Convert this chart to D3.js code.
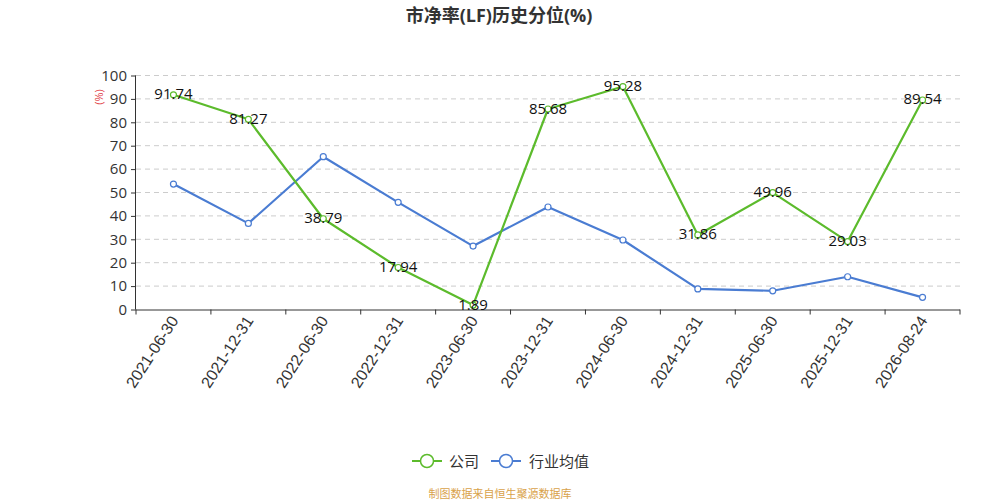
<!DOCTYPE html>
<html><head><meta charset="utf-8">
<script src="https://cdn.jsdelivr.net/npm/d3@7"></script>
<style>
body{margin:0;background:#fff;}
svg{display:block;font-family:"Open Sans","Noto Sans CJK SC",sans-serif;}
</style></head>
<body><svg id="c" width="1000" height="500"></svg>
<script>
const categories = ["2021-06-30","2021-12-31","2022-06-30","2022-12-31","2023-06-30","2023-12-31","2024-06-30","2024-12-31","2025-06-30","2025-12-31","2026-08-24"];
const companyValues = [91.74,81.27,38.79,17.94,1.89,85.68,95.28,31.86,49.96,29.03,89.54];
const industryValues = [53.6,36.8,65.3,45.8,27.1,43.8,29.7,8.8,8.0,14.0,5.2];
const yTicks = [0,10,20,30,40,50,60,70,80,90,100];
const seriesNames = ["公司","行业均值"];
const title = "市净率(LF)历史分位(%)";
const unitLabel = "(%)";
const footer = "制图数据来自恒生聚源数据库";

const green = "#5cbb2c", blue = "#4a7cd2";
const svg = d3.select("#c");
const L = 136, R = 960, T = 75.5, B = 309.5;
const x = d3.scaleBand().domain(categories).range([L, R]);
const y = d3.scaleLinear().domain([0, 100]).range([B, T]);
const cx = d => x(d) + x.bandwidth() / 2;

svg.append("text").attr("x", 499).attr("y", 15).attr("text-anchor", "middle")
  .attr("dominant-baseline", "central").attr("font-size", 18).attr("font-weight", "bold")
  .attr("fill", "#333").text(title);

// grid
svg.append("g").selectAll("line").data(yTicks.filter(t => t > 0)).join("line")
  .attr("x1", L).attr("x2", R).attr("y1", d => y(d)).attr("y2", d => y(d))
  .attr("stroke", "#ccc").attr("stroke-dasharray", "5,4").attr("stroke-width", 1);

// y axis
const ya = svg.append("g").attr("transform", `translate(${L},0)`)
  .call(d3.axisLeft(y).tickValues(yTicks).tickSize(5).tickPadding(4));
ya.select(".domain").attr("stroke", "#333").attr("d", `M-0.5,${B}V${T}`);
ya.selectAll(".tick line").attr("stroke", "#333");
ya.selectAll(".tick text").attr("font-size", 15).attr("fill", "#333")
  .attr("font-family", "\"Open Sans\",sans-serif");

// x axis
const xa = svg.append("g").attr("transform", `translate(0,${B})`)
  .call(d3.axisBottom(x).tickSize(0).tickPadding(0));
xa.select(".domain").attr("stroke", "#333").attr("d", `M${L},0.5H${R}`);
xa.selectAll(".tick text").attr("font-size", 16).attr("fill", "#333")
  .attr("text-anchor", "end").attr("dy", 0).attr("y", 0)
  .attr("transform", "translate(1,8) rotate(-57)").attr("dominant-baseline", "central");
svg.append("g").selectAll("line").data(d3.range(categories.length + 1)).join("line")
  .attr("x1", i => L + i * x.step()).attr("x2", i => L + i * x.step())
  .attr("y1", B).attr("y2", B + 5).attr("stroke", "#333");

// unit label
svg.append("text").attr("transform", "translate(98,97) rotate(-90)")
  .attr("text-anchor", "middle").attr("dominant-baseline", "central")
  .attr("font-size", 11).attr("fill", "#e0393e").text(unitLabel);

function drawSeries(vals, color) {
  const line = d3.line().x((d, i) => cx(categories[i])).y(d => y(d));
  svg.append("path").datum(vals).attr("d", line).attr("fill", "none")
    .attr("stroke", color).attr("stroke-width", 2.2).attr("stroke-linejoin", "round");
  svg.append("g").selectAll("circle").data(vals).join("circle")
    .attr("cx", (d, i) => cx(categories[i])).attr("cy", d => y(d)).attr("r", 3)
    .attr("fill", "#fff").attr("stroke", color).attr("stroke-width", 1.2);
}
drawSeries(industryValues, blue);
drawSeries(companyValues, green);

svg.append("g").selectAll("text").data(companyValues).join("text")
  .attr("x", (d, i) => cx(categories[i])).attr("y", d => y(d) - 1.5)
  .attr("text-anchor", "middle").attr("dominant-baseline", "central")
  .attr("font-size", 15).attr("fill", "#111").text(d => d.toFixed(2));

// legend
const leg = [{n: seriesNames[0], c: green, x: 412, tx: 449}, {n: seriesNames[1], c: blue, x: 491, tx: 529}];
leg.forEach(l => {
  const g = svg.append("g");
  g.append("line").attr("x1", l.x).attr("x2", l.x + 30).attr("y1", 461).attr("y2", 461)
    .attr("stroke", l.c).attr("stroke-width", 2);
  g.append("circle").attr("cx", l.x + 15).attr("cy", 461).attr("r", 6.5)
    .attr("fill", "#fff").attr("stroke", l.c).attr("stroke-width", 1.5);
  g.append("text").attr("x", l.tx).attr("y", 461).attr("dominant-baseline", "central")
    .attr("font-size", 15).attr("fill", "#333").text(l.n);
});

svg.append("text").attr("x", 500).attr("y", 493).attr("text-anchor", "middle")
  .attr("dominant-baseline", "central").attr("font-size", 11).attr("fill", "#d9a24a").text(footer);
</script></body></html>
